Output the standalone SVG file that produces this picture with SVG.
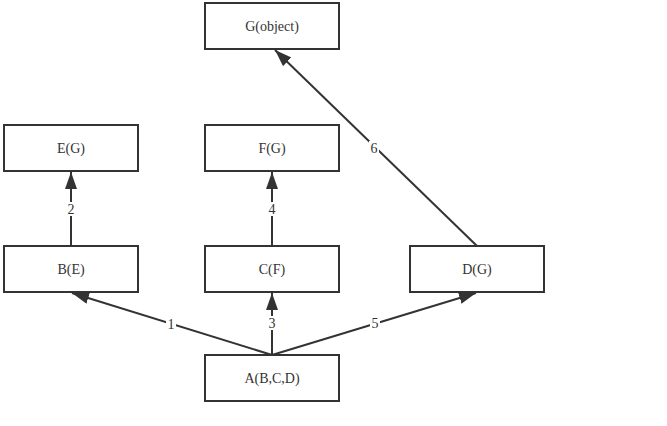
<svg xmlns="http://www.w3.org/2000/svg" width="667" height="426" viewBox="0 0 667 426">
<style>
.box{fill:#fff;stroke:#333;stroke-width:2}
.t{font-family:"Liberation Serif","Times New Roman",serif;font-size:14px;fill:#333;text-anchor:middle;dominant-baseline:central}
.e{stroke:#333;stroke-width:2;fill:none;marker-end:url(#ah)}
.lb{fill:#fff}
</style>
<defs>
<marker id="ah" markerUnits="userSpaceOnUse" markerWidth="18" markerHeight="14" refX="17" refY="6" orient="auto" viewBox="0 0 18 14">
<path d="M0,0 L17,6 L0,12 z" fill="#333"/>
</marker>
</defs>
<rect width="667" height="426" fill="#fff"/>
<g id="connectors">
<line class="e" x1="272" y1="355" x2="72" y2="293"/>
<line class="e" x1="71" y1="246" x2="71" y2="172"/>
<line class="e" x1="272" y1="355" x2="272" y2="293"/>
<line class="e" x1="272" y1="246" x2="272" y2="172"/>
<line class="e" x1="272" y1="355" x2="476" y2="293"/>
<line class="e" x1="477" y1="246" x2="275" y2="50"/>
<rect class="lb" x="166" y="317" width="10" height="14"/><text class="t" x="171" y="324">1</text>
<rect class="lb" x="66" y="202" width="10" height="14"/><text class="t" x="71" y="209">2</text>
<rect class="lb" x="267" y="316" width="10" height="14"/><text class="t" x="272" y="323">3</text>
<rect class="lb" x="267" y="202" width="10" height="14"/><text class="t" x="272" y="209">4</text>
<rect class="lb" x="370" y="316" width="10" height="14"/><text class="t" x="375" y="323">5</text>
<rect class="lb" x="369" y="141" width="10" height="14"/><text class="t" x="374" y="148">6</text>
</g>
<g id="G"><rect class="box" x="205" y="3" width="134" height="46"/><text class="t" x="272" y="26">G(object)</text></g>
<g id="E"><rect class="box" x="4" y="125" width="134" height="46"/><text class="t" x="71" y="148">E(G)</text></g>
<g id="F"><rect class="box" x="205" y="125" width="134" height="46"/><text class="t" x="272" y="148">F(G)</text></g>
<g id="B"><rect class="box" x="4" y="246" width="134" height="46"/><text class="t" x="71" y="269">B(E)</text></g>
<g id="C"><rect class="box" x="205" y="246" width="134" height="46"/><text class="t" x="272" y="269">C(F)</text></g>
<g id="D"><rect class="box" x="410" y="246" width="134" height="46"/><text class="t" x="477" y="269">D(G)</text></g>
<g id="A"><rect class="box" x="205" y="355" width="134" height="46"/><text class="t" x="272" y="378">A(B,C,D)</text></g>
</svg>
